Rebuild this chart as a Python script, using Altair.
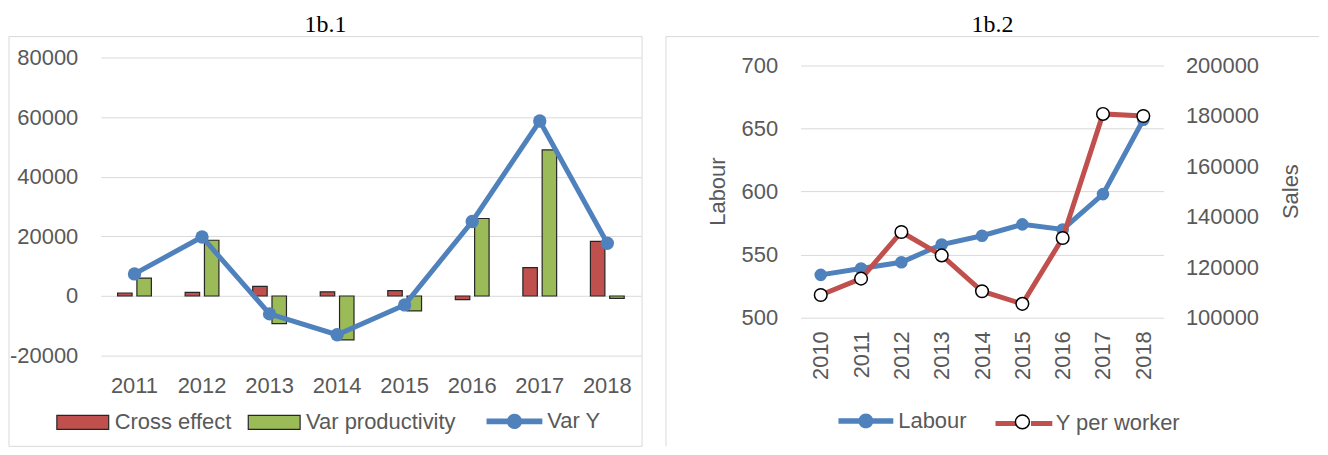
import altair as alt
import pandas as pd

# ---------------- data ----------------
years_a = ["2011", "2012", "2013", "2014", "2015", "2016", "2017", "2018"]
cross_effect = [1000, 1200, 3200, 1400, 1800, -1200, 9500, 18300]
var_productivity = [6000, 18700, -9300, -14700, -5000, 26000, 49000, -800]
var_y = [7400, 19800, -6000, -13000, -3000, 25000, 58700, 17700]

years_b = ["2010", "2011", "2012", "2013", "2014", "2015", "2016", "2017", "2018"]
labour = [534, 539, 544, 558, 565, 574, 570, 598, 657]
y_per_worker = [109000, 115500, 134000, 124700, 110500, 105500, 131600, 180800, 180000]

ticks_a = [-20000, 0, 20000, 40000, 60000, 80000]
ticks_labour = [500, 550, 600, 650, 700]
ticks_sales = [100000, 120000, 140000, 160000, 180000, 200000]

# ---------------- style ----------------
FONT = "Liberation Sans"
TXT = "#595959"
GRID = "#d9d9d9"
BLUE = "#4F81BD"
RED = "#C0504D"
GREEN = "#9BBB59"
OUTLINE = "#262626"
PLAIN = "'' + datum.value"

RECT_PATH = "M-1,-0.27H1V0.27H-1Z"
LINE_DOT_PATH = ("M-1,-0.1H1V0.1H-1Z "
                 "M0.27,0A0.27,0.27,0,1,1,-0.27,0A0.27,0.27,0,1,1,0.27,0Z")
SPLIT_LINE_PATH = "M-1,0H-0.25M0.25,0H1"
CIRCLE_PATH = "M0.245,0A0.245,0.245,0,1,1,-0.245,0A0.245,0.245,0,1,1,0.245,0Z"

frame_df = pd.DataFrame({"k": [0]})

# ---------------- chart 1b.1 ----------------
bars_df = pd.DataFrame({
    "year": years_a * 2,
    "series": ["Cross effect"] * len(years_a) + ["Var productivity"] * len(years_a),
    "value": cross_effect + var_productivity,
})
vy_df = pd.DataFrame({"year": years_a, "series": ["Var Y"] * len(years_a), "value": var_y})

x_axis_a = alt.Axis(labelAngle=0, labelPadding=20, grid=False)
x_scale_a = alt.Scale(paddingInner=0.5, paddingOuter=0.25)
y_a = alt.Y("value:Q", title=None,
            scale=alt.Scale(domain=[-20000, 80000], nice=False),
            axis=alt.Axis(values=ticks_a, labelPadding=23, grid=True, labelExpr=PLAIN))

frame_a = alt.Chart(frame_df).mark_rect(fill="transparent", stroke=GRID, strokeWidth=1).encode(
    x=alt.value(-92), x2=alt.value(543), y=alt.value(-21), y2=alt.value(390))

bars = alt.Chart(bars_df).mark_bar(stroke=OUTLINE, strokeWidth=1.2).encode(
    x=alt.X("year:N", title=None, sort=years_a, scale=x_scale_a, axis=x_axis_a),
    xOffset=alt.XOffset("series:N", scale=alt.Scale(paddingInner=0.25)),
    y=y_a,
    fill=alt.Fill("series:N",
                  scale=alt.Scale(domain=["Cross effect", "Var productivity"], range=[RED, GREEN]),
                  legend=alt.Legend(title=None, orient="none", legendX=-45, legendY=339,
                                    direction="horizontal", symbolType=RECT_PATH, symbolSize=2704,
                                    symbolStrokeColor=OUTLINE, symbolStrokeWidth=1.2,
                                    labelOffset=5, columnPadding=14)),
)

vy_line = alt.Chart(vy_df).mark_line(color=BLUE, strokeWidth=5).encode(
    x=alt.X("year:N", title=None, sort=years_a, scale=x_scale_a, axis=x_axis_a, bandPosition=0.5),
    y=y_a,
)
vy_pts = alt.Chart(vy_df).mark_circle(size=180, opacity=1).encode(
    x=alt.X("year:N", title=None, sort=years_a, scale=x_scale_a, axis=x_axis_a, bandPosition=0.5),
    y=y_a,
    fill=alt.Fill("series:N", scale=alt.Scale(range=[BLUE]),
                  legend=alt.Legend(title=None, orient="none", legendX=387, legendY=337,
                                    symbolType=LINE_DOT_PATH, symbolSize=3136, symbolOpacity=1,
                                    symbolStrokeWidth=0, labelOffset=5)),
)

chart_a = alt.layer(frame_a, bars, vy_line, vy_pts).resolve_scale(fill="independent").properties(
    width=542, height=299,
    title=alt.TitleParams("1b.1", font="Liberation Serif", fontSize=24, fontWeight="normal",
                          color="black", anchor="middle", frame="bounds", offset=-20,
                          baseline="alphabetic"),
)

# ---------------- chart 1b.2 ----------------
lab_df = pd.DataFrame({"year": years_b, "series": ["Labour"] * len(years_b), "value": labour})
ypw_df = pd.DataFrame({"year": years_b, "series": ["Y per worker"] * len(years_b), "value": y_per_worker})

x_b = alt.X("year:O", title=None, sort=years_b,
            scale=alt.Scale(type="point", padding=0.5),
            axis=alt.Axis(labelAngle=270, labelPadding=13, grid=False))
y_left = alt.Y("value:Q", title="Labour",
               scale=alt.Scale(domain=[500, 706.3], nice=False, zero=False),
               axis=alt.Axis(values=ticks_labour, labelPadding=23, grid=True, labelExpr=PLAIN,
                             titlePadding=17, titleBaseline="alphabetic", titleY=134))
y_right = alt.Y("value:Q", title="Sales",
                scale=alt.Scale(domain=[100000, 203166], nice=False, zero=False),
                axis=alt.Axis(orient="right", values=ticks_sales, labelPadding=22, grid=False,
                              labelExpr=PLAIN, titleAngle=270, titlePadding=22,
                              titleBaseline="top", titleY=134))

frame_b_left = alt.Chart(frame_df).mark_rule(color=GRID, strokeWidth=1).encode(
    x=alt.value(-135), y=alt.value(-21), y2=alt.value(390))
frame_b_top = alt.Chart(frame_df).mark_rule(color=GRID, strokeWidth=1).encode(
    x=alt.value(-135), x2=alt.value(520), y=alt.value(-21))

lab_line = alt.Chart(lab_df).mark_line(color=BLUE, strokeWidth=5).encode(x=x_b, y=y_left)
lab_pts = alt.Chart(lab_df).mark_circle(size=160, opacity=1).encode(
    x=x_b, y=y_left,
    fill=alt.Fill("series:N", scale=alt.Scale(range=[BLUE]),
                  legend=alt.Legend(title=None, orient="none", legendX=38, legendY=337,
                                    symbolType=LINE_DOT_PATH, symbolSize=3025, symbolOpacity=1,
                                    symbolStrokeWidth=0, labelOffset=5)),
)

ypw_line = alt.Chart(ypw_df).mark_line(strokeWidth=5).encode(
    x=x_b, y=y_right,
    stroke=alt.Stroke("series:N", scale=alt.Scale(range=[RED]),
                      legend=alt.Legend(title=None, orient="none", legendX=193, legendY=336,
                                        symbolType=SPLIT_LINE_PATH, symbolSize=3249,
                                        symbolStrokeWidth=5, labelOffset=1)),
)
ypw_pts = alt.Chart(ypw_df).mark_circle(size=160, opacity=1, stroke="black", strokeWidth=1.5).encode(
    x=x_b, y=y_right,
    fill=alt.Fill("series:N", scale=alt.Scale(range=["white"]),
                  legend=alt.Legend(title=None, orient="none", legendX=193, legendY=336,
                                    symbolType=CIRCLE_PATH, symbolSize=3249, symbolOpacity=1,
                                    symbolStrokeColor="black", symbolStrokeWidth=1.5,
                                    labelExpr="''")),
)

left_pair = alt.layer(frame_b_left, frame_b_top, lab_line, lab_pts)
right_pair = alt.layer(ypw_line, ypw_pts)
chart_b = alt.layer(left_pair, right_pair).resolve_scale(
    y="independent", fill="independent", stroke="independent").properties(
    width=364, height=261,
    title=alt.TitleParams("1b.2", font="Liberation Serif", fontSize=24, fontWeight="normal",
                          color="black", anchor="middle", frame="bounds", offset=-20,
                          baseline="alphabetic"),
)

chart = alt.hconcat(chart_a, chart_b, spacing=22).resolve_scale(
    x="independent", y="independent", fill="independent", stroke="independent"
).properties(
    padding={"left": 0, "top": 4, "right": 0, "bottom": 0}
).configure_view(stroke="transparent").configure_axis(
    labelFont=FONT, labelFontSize=22, labelColor=TXT,
    titleFont=FONT, titleFontSize=22, titleColor=TXT, titleFontWeight="normal",
    tickSize=0, domain=False, gridColor=GRID, gridWidth=1,
).configure_legend(
    labelFont=FONT, labelFontSize=22, labelColor=TXT, padding=0, labelLimit=400,
)

chart.save("out.html", embed_options={"renderer": "svg", "actions": False})
